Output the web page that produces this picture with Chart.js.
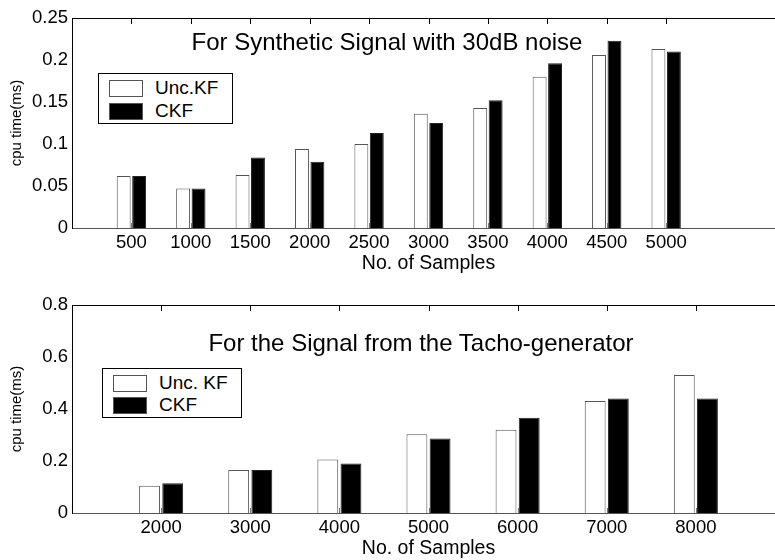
<!DOCTYPE html>
<html>
<head>
<meta charset="utf-8">
<title>cpu time vs No. of Samples</title>
<script src="https://cdn.jsdelivr.net/npm/chart.js@4.4.1/dist/chart.umd.min.js"></script>
<style>
    html, body { margin: 0; padding: 0; background: #fff; overflow: hidden; }
    #page { position: relative; width: 775px; height: 560px; overflow: hidden; font-family: 'Liberation Sans', Arial, sans-serif; color: #000; }
    canvas { position: absolute; left: 0; }
    #topCanvas { top: 0; }
    #bottomCanvas { top: 280px; }
    .plot-title { position: absolute; font-size: 24px; white-space: nowrap; transform: translate(-50%, -50%); }
    .legend { position: absolute; background: #fff; border: 1px solid #000; box-sizing: border-box; }
    .legend-row { position: absolute; left: 10px; height: 20px; display: flex; align-items: center; font-size: 19px; transform: translateY(-50%); }
    .legend-swatch { width: 34px; height: 17px; box-sizing: border-box; border: 1px solid #555; margin-right: 12px; }
</style>
</head>
<body>
<div id="page">
    <canvas id="topCanvas" width="800" height="280"></canvas>
    <canvas id="bottomCanvas" width="800" height="280"></canvas>
    <div class="plot-title" style="left:387px; top:42px;">For Synthetic Signal with 30dB noise</div>
    <div class="plot-title" style="left:421px; top:343px;">For the Signal from the Tacho-generator</div>
    <div class="legend" id="topLegend" style="left:98px; top:73px; width:135px; height:51px;"></div>
    <div class="legend" id="bottomLegend" style="left:102px; top:368px; width:140px; height:50px;"></div>
</div>
<script>
// Synthetic signal (top plot)
const topSamples = [500, 1000, 1500, 2000, 2500, 3000, 3500, 4000, 4500, 5000];
const topUncKF = [0.062, 0.047, 0.063, 0.094, 0.100, 0.136, 0.143, 0.180, 0.206, 0.213];
const topCKF = [0.062, 0.047, 0.084, 0.079, 0.113, 0.125, 0.152, 0.196, 0.223, 0.210];
const topYTicks = [0, 0.05, 0.1, 0.15, 0.2, 0.25];

// Tacho-generator signal (bottom plot)
const bottomSamples = [2000, 3000, 4000, 5000, 6000, 7000, 8000];
const bottomUncKF = [0.105, 0.165, 0.206, 0.303, 0.320, 0.431, 0.531];
const bottomCKF = [0.114, 0.165, 0.190, 0.287, 0.366, 0.440, 0.440];
const bottomYTicks = [0, 0.2, 0.4, 0.6, 0.8];

const FONT = "'Liberation Sans', Arial, sans-serif";

// top border of the box plus the little inward x ticks
const frameTicks = {
    id: 'frameTicks',
    afterDatasetsDraw(chart) {
        const { ctx, chartArea } = chart;
        const xScale = chart.scales.x;
        ctx.save();
        ctx.lineWidth = 1;
        ctx.strokeStyle = '#000';
        ctx.beginPath();
        ctx.moveTo(chartArea.left, Math.round(chartArea.top) + 0.5);
        ctx.lineTo(chartArea.right, Math.round(chartArea.top) + 0.5);
        ctx.stroke();
        xScale.ticks.forEach(t => {
            const px = Math.round(xScale.getPixelForValue(t.value)) + 0.5;
            ctx.strokeStyle = '#000';
            ctx.beginPath();
            ctx.moveTo(px, chartArea.top);
            ctx.lineTo(px, chartArea.top + 6);
            ctx.stroke();
            ctx.strokeStyle = '#777';
            ctx.beginPath();
            ctx.moveTo(px, chartArea.bottom);
            ctx.lineTo(px, chartArea.bottom - 5);
            ctx.stroke();
        });
        ctx.restore();
    }
};

function toPoints(xs, ys) {
    return xs.map((x, i) => ({ x: x, y: ys[i] }));
}

function fmt(v) {
    return String(+v.toFixed(2));
}

function buildChart(canvasId, cfg) {
    const ctx = document.getElementById(canvasId).getContext('2d');
    return new Chart(ctx, {
        type: 'bar',
        data: {
            datasets: [
                {
                    label: cfg.uncLabel,
                    data: toPoints(cfg.samples, cfg.unc),
                    backgroundColor: '#ffffff',
                    borderColor: '#555555',
                    borderWidth: 1,
                    categoryPercentage: 0.52,
                    barPercentage: 0.9
                },
                {
                    label: 'CKF',
                    data: toPoints(cfg.samples, cfg.ckf),
                    backgroundColor: '#000000',
                    borderColor: '#222222',
                    borderWidth: 1,
                    categoryPercentage: 0.52,
                    barPercentage: 0.9
                }
            ]
        },
        options: {
            responsive: false,
            animation: false,
            devicePixelRatio: 1,
            layout: { padding: { left: 0, right: 15, top: cfg.padTop, bottom: 0 } },
            plugins: {
                legend: { display: false },
                tooltip: { enabled: false }
            },
            scales: {
                x: {
                    type: 'linear',
                    offset: false,
                    min: cfg.xMin,
                    max: cfg.xMax,
                    afterBuildTicks: s => { s.ticks = cfg.samples.map(v => ({ value: v })); },
                    afterFit: s => { s.height = cfg.xHeight; },
                    grid: { display: false, drawTicks: false, offset: false },
                    border: { display: true, color: '#555', width: 1 },
                    ticks: {
                        padding: 4,
                        color: '#000',
                        font: { family: FONT, size: 18.5 },
                        maxRotation: 0,
                        autoSkip: false,
                        callback: v => String(v)
                    },
                    title: {
                        display: true,
                        text: 'No. of Samples',
                        color: '#000',
                        font: { family: FONT, size: 19.5 },
                        padding: { top: 0, bottom: cfg.xTitlePad }
                    }
                },
                y: {
                    min: 0,
                    max: cfg.yTicks[cfg.yTicks.length - 1],
                    afterBuildTicks: s => { s.ticks = cfg.yTicks.map(v => ({ value: v })); },
                    afterFit: s => { s.width = 72; },
                    grid: { display: false, drawTicks: false },
                    border: { display: true, color: '#000', width: 1 },
                    ticks: {
                        padding: 4,
                        color: '#000',
                        font: { family: FONT, size: 18.5 },
                        callback: v => fmt(v)
                    },
                    title: {
                        display: true,
                        text: 'cpu time(ms)',
                        color: '#000',
                        font: { family: FONT, size: 15 },
                        padding: { top: 8, bottom: 0 }
                    }
                }
            }
        },
        plugins: [frameTicks]
    });
}

// HTML legend boxes built from the chart datasets
function buildLegend(chart, elId, rowTops) {
    const box = document.getElementById(elId);
    chart.data.datasets.forEach((ds, i) => {
        const row = document.createElement('div');
        row.className = 'legend-row';
        row.style.top = rowTops[i] + 'px';
        const sw = document.createElement('span');
        sw.className = 'legend-swatch';
        sw.style.background = ds.backgroundColor;
        const txt = document.createElement('span');
        txt.textContent = ds.label;
        row.appendChild(sw);
        row.appendChild(txt);
        box.appendChild(row);
    });
}

const topChart = buildChart('topCanvas', {
    samples: topSamples, unc: topUncKF, ckf: topCKF, yTicks: topYTicks,
    uncLabel: 'Unc.KF', xMin: 0, xMax: 6000, padTop: 18, xHeight: 52, xTitlePad: 5
});
const bottomChart = buildChart('bottomCanvas', {
    samples: bottomSamples, unc: bottomUncKF, ckf: bottomCKF, yTicks: bottomYTicks,
    uncLabel: 'Unc. KF', xMin: 1000, xMax: 9000, padTop: 25, xHeight: 47, xTitlePad: 0
});

buildLegend(topChart, 'topLegend', [14, 37]);
buildLegend(bottomChart, 'bottomLegend', [14, 36]);
</script>
</body>
</html>
